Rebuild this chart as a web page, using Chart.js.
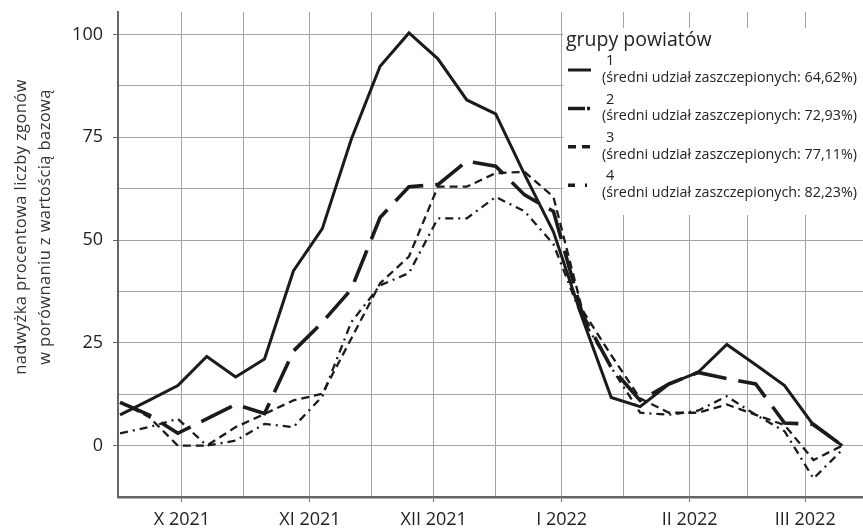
<!DOCTYPE html>
<html lang="pl">
<head>
<meta charset="UTF-8">
<title>Nadwyżka zgonów według grup powiatów</title>
<script src="https://cdn.jsdelivr.net/npm/chart.js@4.4.1/dist/chart.umd.min.js"></script>
<style>
    html, body { margin: 0; padding: 0; background: #fff; }
    #wrap { position: relative; width: 863px; height: 531px; }
</style>
</head>
<body>
<div id="wrap"><canvas id="chart"></canvas></div>
<script>
    // weekly points, values
    const weeks = ['2021-09-16', '2021-09-23', '2021-09-30', '2021-10-07', '2021-10-14', '2021-10-21',
        '2021-10-28', '2021-11-04', '2021-11-11', '2021-11-18', '2021-11-25', '2021-12-02',
        '2021-12-09', '2021-12-16', '2021-12-23', '2021-12-30', '2022-01-06', '2022-01-13',
        '2022-01-20', '2022-01-27', '2022-02-03', '2022-02-10', '2022-02-17', '2022-02-24',
        '2022-03-03', '2022-03-10'];
    const group1 = [7.5, 11, 14.6, 21.7, 16.7, 21.1, 42.5, 52.8, 74.5, 92.3, 100.4, 94.1, 84.1,
        80.7, 66, 52, 31, 11.7, 9.5, 15, 17.8, 24.6, 19.7, 14.6, 5, 0];
    const group2 = [10.5, 7.5, 3, 6.5, 10, 7.8, 23, 30, 38, 55.5, 63, 63.5, 69.2,
        68, 61, 57, 32, 19, 11, 15, 17.8, 16.3, 15, 5.5, 5.2, 0];
    const group3 = [10.5, 7, 0, 0, 4.5, 7.7, 11, 12.6, 26, 39.5, 46, 63, 63,
        66.3, 66.6, 60.5, 33, 22, 11.5, 8, 8, 10, 7.5, 5, -3.5, 0];
    const group4 = [3, 4.5, 6.5, 0, 1.2, 5.3, 4.5, 12, 30, 39, 42, 55.3, 55.3,
        60.5, 57, 49, 31, 19, 8, 7.5, 8.5, 12, 7.5, 3.5, -8, -1];

    const groupNames = ['1', '2', '3', '4'];
    const groupShares = ['64,62%', '72,93%', '77,11%', '82,23%'];

    const monthTicks = ['2021-10-01', '2021-11-01', '2021-12-01', '2022-01-01', '2022-02-01', '2022-03-01'];
    const monthLabels = ['X 2021', 'XI 2021', 'XII 2021', 'I 2022', 'II 2022', 'III 2022'];
    const midMonthTicks = ['2021-10-16', '2021-11-16', '2021-12-16', '2022-01-16', '2022-02-15'];
    const yTicks = [-12.5, 0, 12.5, 25, 37.5, 50, 62.5, 75, 87.5, 100];
    const yLabelled = [0, 25, 50, 75, 100];

    const yTitle = ['nadwyżka procentowa liczby zgonów', 'w porównaniu z wartością bazową'];
    const legendTitle = 'grupy powiatów';

    // days counted from 1 Oct 2021
    const base = Date.parse('2021-10-01');
    const day = d => Math.round((Date.parse(d) - base) / 864e5);
    const monthDays = monthTicks.map(day);

    const ink = '#1b1b1b';
    const font = '"Open Sans", "Noto Sans", sans-serif';
    const styles = [
        { width: 3, dash: [] },
        { width: 3.6, dash: [34, 12] },
        { width: 2.3, dash: [8, 5] },
        { width: 2.3, dash: [8, 5, 2, 5] }
    ];
    const legendDash = [[], [17, 2, 3, 10], [8, 6], [7, 10, 2, 10]];

    const series = [group1, group2, group3, group4];
    const datasets = series.map((vals, i) => ({
        label: groupNames[i],
        data: vals.map((v, k) => ({ x: day(weeks[k]), y: v })),
        borderColor: ink,
        borderWidth: styles[i].width,
        borderDash: styles[i].dash,
        borderJoinStyle: 'miter',
        pointRadius: 0,
        tension: 0,
        fill: false
    }));

    // y title and the legend box are drawn by hand
    const annotations = {
        id: 'annotations',
        beforeDatasetsDraw(chart) {
            const { ctx, chartArea: a } = chart;
            ctx.save();
            ctx.fillStyle = '#fff';
            ctx.fillRect(563, 28, a.right - 563, 187);

            ctx.fillStyle = '#222';
            ctx.textBaseline = 'middle';
            ctx.textAlign = 'left';
            ctx.font = '19.5px ' + font;
            ctx.fillText(legendTitle, 566, 40);

            for (let i = 0; i < groupNames.length; i++) {
                const dy = i * 38.4;
                ctx.font = '14.5px ' + font;
                ctx.fillText(groupNames[i], 606, 61 + dy);
                ctx.font = '14.3px ' + font;
                ctx.fillText('(średni udział zaszczepionych: ' + groupShares[i] + ')', 602, 78 + dy);

                ctx.beginPath();
                ctx.strokeStyle = ink;
                ctx.lineWidth = i === 0 ? 3 : 3.5;
                ctx.setLineDash(legendDash[i]);
                ctx.moveTo(568, 70 + dy);
                ctx.lineTo(591, 70 + dy);
                ctx.stroke();
            }
            ctx.setLineDash([]);

            ctx.fillStyle = '#333';
            ctx.textAlign = 'center';
            ctx.font = '16.5px ' + font;
            ctx.letterSpacing = '0.4px';
            ctx.translate(21, 227);
            ctx.rotate(-Math.PI / 2);
            ctx.fillText(yTitle[0], 0, 0);
            ctx.fillText(yTitle[1], 0, 24);
            ctx.restore();
        }
    };

    new Chart(document.getElementById('chart'), {
        type: 'line',
        data: { datasets },
        plugins: [annotations],
        options: {
            responsive: true,
            maintainAspectRatio: false,
            animation: false,
            layout: { padding: { top: 12, right: 0, left: 0, bottom: 0 } },
            plugins: {
                legend: { display: false },
                tooltip: { enabled: false }
            },
            scales: {
                x: {
                    type: 'linear',
                    min: -15.5,
                    max: 165,
                    afterBuildTicks: scale => {
                        scale.ticks = monthTicks.concat(midMonthTicks).map(day)
                            .sort((p, q) => p - q).map(v => ({ value: v }));
                    },
                    afterFit: scale => {
                        scale.height = 34;
                        scale.paddingLeft = 0;
                        scale.paddingRight = 0;
                    },
                    ticks: {
                        autoSkip: false,
                        maxRotation: 0,
                        padding: 7,
                        color: '#222',
                        font: { family: font, size: 18 },
                        callback: v => {
                            const i = monthDays.indexOf(v);
                            return i >= 0 ? monthLabels[i] : '';
                        }
                    },
                    grid: {
                        color: '#a3a3a3',
                        lineWidth: 1,
                        tickLength: 5,
                        tickColor: c => monthDays.includes(c.tick && c.tick.value) ? '#666' : 'rgba(0,0,0,0)'
                    },
                    border: { display: true, color: '#666', width: 2.5 }
                },
                y: {
                    min: -12.5,
                    max: 105.5,
                    afterBuildTicks: scale => {
                        scale.ticks = yTicks.map(v => ({ value: v }));
                    },
                    afterFit: scale => {
                        scale.width = 118;
                        scale.paddingTop = 0;
                        scale.paddingBottom = 0;
                    },
                    ticks: {
                        padding: 10,
                        color: '#222',
                        font: { family: font, size: 18 },
                        callback: v => yLabelled.includes(v) ? String(v) : ''
                    },
                    grid: {
                        color: '#a3a3a3',
                        lineWidth: 1,
                        tickLength: 5,
                        tickColor: c => yLabelled.includes(c.tick && c.tick.value) ? '#666' : 'rgba(0,0,0,0)'
                    },
                    border: { display: true, color: '#666', width: 2 }
                }
            }
        }
    });
</script>
</body>
</html>
